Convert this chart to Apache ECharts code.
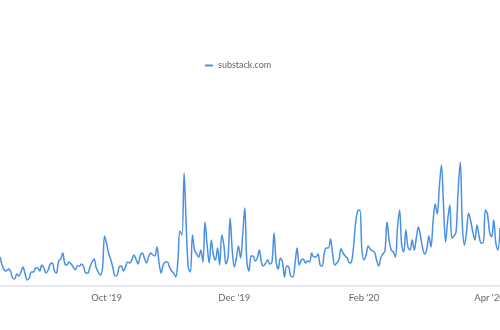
<!DOCTYPE html>
<html>
<head>
<meta charset="utf-8">
<script src="https://cdn.jsdelivr.net/npm/echarts@6/dist/echarts.min.js"></script>
<style>
html,body{margin:0;padding:0;background:#fff;}
#chart{width:500px;height:330px;}
</style>
</head>
<body>
<div id="chart"></div>
<script>
// Daily values (arbitrary units) from 2019-08-11 onward
const startDate = '2019-08-11';
const seriesName = 'substack.com';
const visits = [
  29,21,16,15,17,15,8,7,12,10,14,19,12,6,8,14,14,18,18,15,21,18,13,16,22,23,15,13,25,27,
  33,22,21,24,22,19,16,20,20,22,19,13,13,19,24,27,18,14,11,18,50,42,32,26,18,10,11,19,20,15,
  19,24,23,26,31,27,22,30,33,28,23,29,33,31,30,39,24,13,21,24,24,19,15,13,9,24,55,51,113,61,
  18,14,51,36,32,29,36,24,64,41,23,46,31,26,38,21,51,41,22,29,68,36,19,28,40,28,51,78,24,15,
  30,30,25,28,36,23,20,23,26,22,24,53,24,17,28,24,9,20,19,10,9,22,38,21,26,27,23,25,24,33,
  29,29,32,21,20,33,38,38,47,32,21,23,26,37,33,30,28,23,24,39,64,75,76,36,26,31,40,37,35,34,
  26,20,28,32,35,64,46,36,34,29,58,76,41,34,56,39,36,46,36,48,59,50,38,32,37,50,39,64,82,72,
  99,121,81,44,66,81,48,50,54,96,124,61,41,54,73,65,54,46,61,50,43,43,76,72,54,49,66,43,36,58
];
const labelMonths = ['10-01', '12-01', '02-01', '04-01'];
const monthNames = ['Jan','Feb','Mar','Apr','May','Jun','Jul','Aug','Sep','Oct','Nov','Dec'];

const dates = [];
{
  const d0 = new Date(startDate + 'T00:00:00Z');
  for (let i = 0; i < visits.length; i++) {
    const d = new Date(d0.getTime() + i * 86400000);
    dates.push(d.toISOString().slice(0, 10));
  }
}

const chart = echarts.init(document.getElementById('chart'), null, {renderer: 'canvas'});
chart.setOption({
  animation: false,
  backgroundColor: '#ffffff',
  legend: {
    data: [seriesName],
    left: 200,
    top: 56,
    icon: 'rect',
    itemWidth: 8,
    itemHeight: 2,
    itemGap: 6,
    textStyle: {color: '#666', fontSize: 9, fontFamily: 'Lato, sans-serif'}
  },
  grid: {left: 0, right: 0, top: 36, bottom: 44, containLabel: false, outerBoundsMode: 'none'},
  xAxis: {
    type: 'category',
    data: dates,
    boundaryGap: false,
    axisLine: {lineStyle: {color: '#e6e9ef', width: 2}},
    axisTick: {show: false},
    axisLabel: {
      color: '#666',
      fontSize: 9.5,
      fontFamily: 'Lato, sans-serif',
      margin: 7,
      hideOverlap: false,
      interval: function (idx, val) { return labelMonths.indexOf(val.slice(5)) >= 0; },
      formatter: function (val) {
        const m = parseInt(val.slice(5, 7), 10) - 1;
        return monthNames[m] + " '" + val.slice(2, 4);
      }
    },
    splitLine: {show: false}
  },
  yAxis: {
    type: 'value',
    min: 0,
    max: 250,
    show: false,
    splitLine: {show: false}
  },
  series: [{
    name: seriesName,
    type: 'line',
    data: visits,
    smooth: 0.35,
    symbol: 'none',
    lineStyle: {color: '#4a90e2', width: 1.5},
    itemStyle: {color: '#4a90e2'}
  }]
});
</script>
</body>
</html>
